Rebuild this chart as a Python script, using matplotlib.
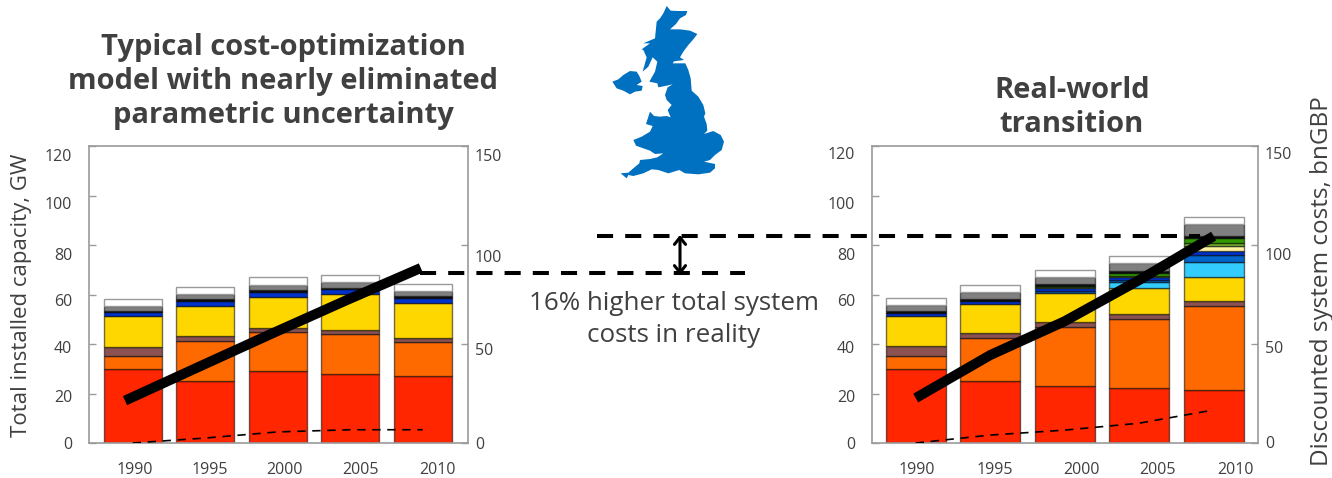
import numpy as np
import matplotlib
matplotlib.use("Agg")
import matplotlib.pyplot as plt
from matplotlib.lines import Line2D
from matplotlib.patches import Polygon, FancyArrowPatch
from matplotlib.transforms import Affine2D

W, H = 1332, 478
YEARS = ["1990", "1995", "2000", "2005", "2010"]
TEXT = "#404040"
FRAME = "#9a9a9a"

# Installed capacity per technology (GW), bottom to top
model_red = [30.0, 25.2, 29.0, 28.0, 26.9]
model_orange = [5.0, 16.1, 15.7, 15.9, 14.0]
model_brown = [3.8, 2.1, 1.9, 1.9, 1.7]
model_yellow = [12.4, 12.0, 12.5, 14.3, 14.0]
model_blue = [1.6, 2.0, 2.0, 2.0, 2.0]
model_black = [0.7, 0.8, 0.9, 0.7, 0.8]
model_gray = [1.9, 2.1, 2.0, 2.2, 2.0]
model_white = [2.9, 2.7, 2.9, 2.9, 3.0]

real_red = [30.0, 25.2, 23.2, 22.3, 21.4]
real_orange = [5.0, 17.4, 23.8, 27.7, 34.1]
real_brown = [4.2, 1.7, 2.0, 2.0, 1.9]
real_yellow = [12.1, 11.9, 11.5, 10.5, 9.7]
real_sky = [0, 0, 0, 2.4, 6.0]
real_midblue = [0, 0, 1.0, 0.8, 2.8]
real_blue = [1.4, 1.3, 1.1, 1.2, 1.8]
real_pale = [0, 0, 0, 0, 1.9]
real_lime = [0, 0, 0.3, 0.7, 1.1]
real_green = [0, 0, 0.7, 1.0, 2.0]
real_black = [0.7, 0.8, 0.5, 0.9, 0.9]
real_gray = [2.2, 2.6, 2.9, 3.1, 4.8]
real_white = [2.9, 2.8, 3.1, 2.8, 2.8]

# Discounted system costs (bnGBP)
model_total_cost = [21.4, 38.5, 55.5, 72.2, 88.4]
model_part_cost = [0, 2.5, 5.6, 6.7, 6.7]
real_total_cost = [22.7, 44.4, 61.5, 82.3, 104.5]
real_part_cost = [0, 4.0, 6.5, 10.0, 16.7]

COLORS = {
    "red": "#FF2600", "orange": "#FF6A00", "brown": "#8C5252", "yellow": "#FFD700",
    "sky": "#33CCFF", "midblue": "#0066CC", "blue": "#0033CC", "pale": "#FFF3A0",
    "lime": "#77B32F", "green": "#339900", "black": "#111111", "gray": "#808080",
    "white": "#FFFFFF",
}
model_layers = [("red", model_red), ("orange", model_orange), ("brown", model_brown),
                ("yellow", model_yellow), ("blue", model_blue), ("black", model_black),
                ("gray", model_gray), ("white", model_white)]
real_layers = [("red", real_red), ("orange", real_orange), ("brown", real_brown),
               ("yellow", real_yellow), ("sky", real_sky), ("midblue", real_midblue),
               ("blue", real_blue), ("pale", real_pale), ("lime", real_lime),
               ("green", real_green), ("black", real_black), ("gray", real_gray),
               ("white", real_white)]

# Outline of Great Britain and Northern Ireland, in 1/3 pixel units from (600, 0)
gb_outline = [(200, 18), (212, 32), (235, 33), (262, 33), (258, 45), (240, 55), (228, 72), (210, 88),
              (240, 88), (270, 92), (292, 102), (280, 118), (265, 135), (250, 155), (240, 172), (252, 180),
              (222, 184), (218, 190), (256, 190), (265, 210), (272, 235), (275, 272), (295, 290), (310, 315),
              (316, 340), (312, 350), (320, 372), (322, 392), (312, 402), (340, 393), (362, 405), (372, 425),
              (365, 450), (345, 465), (330, 480), (312, 485), (345, 492), (345, 505), (330, 518), (295, 523),
              (255, 520), (238, 510), (205, 520), (175, 510), (155, 508), (130, 520), (100, 528), (85, 525),
              (80, 535), (62, 520), (85, 518), (100, 505), (118, 490), (120, 480), (150, 477), (172, 472),
              (190, 460), (165, 462), (150, 452), (130, 445), (108, 437), (100, 420), (125, 410), (150, 395),
              (158, 378), (138, 372), (150, 335), (162, 348), (180, 350), (200, 348), (212, 352), (203, 330),
              (215, 315), (200, 300), (195, 285), (203, 262), (218, 253), (195, 258), (175, 262), (172, 250),
              (148, 245), (165, 215), (172, 185), (158, 172), (145, 200), (128, 215), (140, 172), (130, 150),
              (125, 148), (150, 130), (130, 130), (165, 115), (170, 65), (180, 55), (190, 40)]
ni_outline = [(37, 245), (55, 238), (70, 225), (90, 213), (110, 215), (118, 228), (125, 245), (110, 255),
              (128, 258), (125, 272), (105, 275), (90, 283), (70, 272), (50, 265)]

plt.rcParams["font.family"] = ["Open Sans", "DejaVu Sans"]
fig = plt.figure(figsize=(W / 100, H / 100), dpi=100)


def fx(px):
    return px / W


def fy(py):
    return 1 - py / H


def shift(label, dx, dy):
    label.set_transform(label.get_transform() + Affine2D().translate(dx, -dy))


def panel(x0, x1, bar_centre0, bar_step, bar_width, layers, total, part, line_stretch, line_shift,
          xoffs, yoffs, y2offs):
    ax = fig.add_axes([fx(x0), fy(443), fx(x1 - x0), fy(146) - fy(443)])
    idx = np.arange(len(YEARS))
    ax.set_xlim((x0 - bar_centre0) / bar_step, (x1 - bar_centre0) / bar_step)
    ax.set_ylim(0, 120)
    bottom = np.zeros(len(YEARS))
    for name, values in layers:
        values = np.array(values, dtype=float)
        keep = values > 0
        edge = "#9a9a9a" if name == "white" else (0, 0, 0, 0.55)
        ax.bar(idx[keep], values[keep], bottom=bottom[keep], width=bar_width / bar_step,
               color=COLORS[name], edgecolor=edge, linewidth=1.0, zorder=2)
        bottom += values
    ax.set_xticks(idx, YEARS)
    ax.set_yticks(np.arange(0, 121, 20))
    ax.tick_params(axis="both", direction="in", length=5, width=1, color=FRAME,
                   labelcolor=TEXT, labelsize=11.5, pad=12)
    for lab, off in zip(ax.get_xticklabels(), xoffs):
        shift(lab, off, 2)
    for lab, off in zip(ax.get_yticklabels(), yoffs):
        shift(lab, 0, off)
    for spine in ax.spines.values():
        spine.set_color(FRAME)
        spine.set_linewidth(1.2)

    ax2 = ax.twinx()
    ax2.set_ylim(0, 150)
    ax2.set_yticks([0, 50, 100, 150])
    ax2.tick_params(axis="y", direction="in", length=5, width=1, color=FRAME,
                    labelcolor=TEXT, labelsize=11.5, pad=5)
    for lab, off in zip(ax2.get_yticklabels(), y2offs):
        shift(lab, 0, off)
    for spine in ax2.spines.values():
        spine.set_visible(False)
    ax2.plot(idx * line_stretch + line_shift, total, color="black", lw=7.2,
             solid_capstyle="butt", solid_joinstyle="round", zorder=5)
    ax2.plot(idx, part, color="black", lw=1.2, dashes=(5, 4), zorder=5)
    return ax


panel(89, 468, 132.7, 72.5, 58, model_layers, model_total_cost, model_part_cost, 1.02, -0.106,
      [2, 5, 7, 10, 15], [0, 3, 3, 5, 9, 7.5, 9], [0, 5, 11, 9])
panel(871.7, 1258, 915.7, 74.5, 60, real_layers, real_total_cost, real_part_cost, 1.0, 0.0,
      [1, 5, 16.5, 18, 21.5], [0, 3, 3, 5, 9, 7.5, 7], [-1, 3, 9, 7])

# Titles and axis captions
for y, line in zip([47, 81, 115], ["Typical cost-optimization", "model with nearly eliminated",
                                   "parametric uncertainty"]):
    fig.text(fx(283), fy(y), line, ha="center", va="center", fontsize=21, fontweight="bold", color=TEXT)
for y, line in zip([90, 124], ["Real-world", "transition"]):
    fig.text(fx(1072), fy(y), line, ha="center", va="center", fontsize=21, fontweight="bold", color=TEXT)
fig.text(fx(22), fy(295), "Total installed capacity, GW", rotation=90, ha="center", va="center",
         fontsize=16, color=TEXT)
fig.text(fx(1322), fy(281), "Discounted system costs, bnGBP", rotation=90, ha="center", va="center",
         fontsize=17.5, color=TEXT)
for y, line in zip([304, 336], ["16% higher total system", "costs in reality"]):
    fig.text(fx(674), fy(y), line, ha="center", va="center", fontsize=18.7, color=TEXT)

# Gap between the two cost totals
for x_a, x_b, y in [(597, 1200, 236), (420, 745, 272.5)]:
    fig.add_artist(Line2D([fx(x_a), fx(x_b)], [fy(y), fy(y)], color="black", lw=2.9,
                          dashes=(4, 3), dash_capstyle="butt", zorder=6))
fig.add_artist(FancyArrowPatch((fx(680), fy(235)), (fx(680), fy(275)), transform=fig.transFigure,
                               arrowstyle="<->,head_length=5,head_width=4", color="black", lw=2.2,
                               shrinkA=0, shrinkB=0, zorder=7))

# Map of the UK
map_colour = "#0070C0"
for outline in (gb_outline, ni_outline):
    pts = [(fx(600 + a / 3), fy(b / 3)) for a, b in outline]
    fig.add_artist(Polygon(pts, closed=True, transform=fig.transFigure, facecolor=map_colour,
                           edgecolor="none", zorder=3))

fig.savefig("out.png", dpi=100)
